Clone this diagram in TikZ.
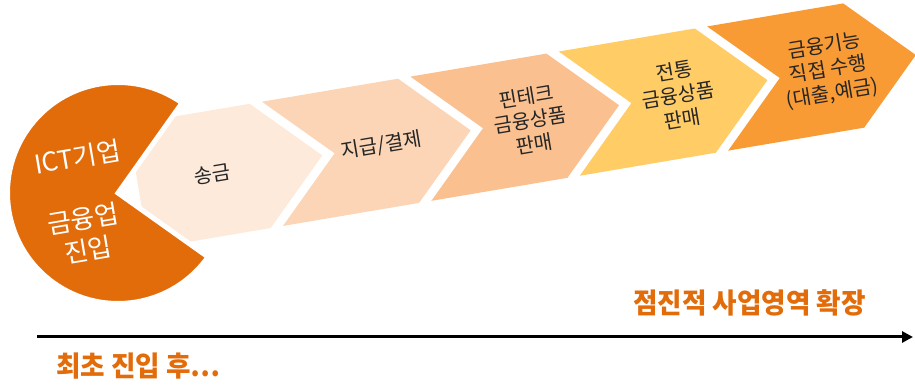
\documentclass[tikz,border=0pt]{standalone}
\usepackage{fontspec}
\setmainfont{Noto Sans CJK KR}
\newfontfamily\krb{Noto Sans CJK KR}[FakeStretch=0.95]
\usetikzlibrary{arrows.meta}
\definecolor{pieor}{HTML}{E36C0A}
\definecolor{cA}{HTML}{FDEADA}
\definecolor{cB}{HTML}{FBD5B5}
\definecolor{cC}{HTML}{FAC090}
\definecolor{cD}{HTML}{FFCC66}
\definecolor{cE}{HTML}{F99B35}
\definecolor{txt}{HTML}{262626}
\begin{document}
\begin{tikzpicture}[x=1pt,y=1pt,
  lbl/.style={font=\fontsize{20}{24}\selectfont, text=txt, align=center, transform shape, inner sep=0pt},
  pietxt/.style={font=\fontsize{26}{31}\selectfont, text=white, align=center, transform shape, inner sep=0pt},
  bottxt/.style={font=\krb\bfseries\fontsize{28}{32}\selectfont, text=pieor, inner sep=0pt}]
\useasboundingbox (0,0) rectangle (915,385);
\begin{scope}[shift={(118,192)}, rotate=9.6]
  \fill[cA] (21,66) -- (144.7,66) -- (207.7,3) -- (144.7,-60) -- (21,-60) -- cycle;
  \foreach \k/\c in {0/cB,1/cC,2/cD,3/cE} {
    \pgfmathsetmacro\a{157.2+150.5*\k}
    \fill[\c] (\a,66) -- ++(138,0) -- ++(63,-63) -- ++(-63,-63) -- ++(-138,0) -- ++(63,63) -- cycle;
  }
  \filldraw[fill=pieor, draw=white, line width=5pt, line join=miter]
    (0,0) -- (45:110.5) arc[start angle=45, end angle=315, radius=110.5] -- cycle;
  \node[lbl] (t1) at (96,3) {송금};
  \node[lbl] (t2) at (268,3) {지급/결제};
  \node[lbl] (t3) at (418.5,3) {핀테크\\금융상품\\판매};
  \node[lbl] (t4) at (569,3) {전통\\금융상품\\판매};
  \node[lbl] (t5) at (721,3) {금융기능\\직접 수행\\(대출,예금)};
  \node[pietxt] (p1) at (-34,42) {ICT기업};
  \node[pietxt] (p2) at (-39,-35) {금융업\\진입};
\end{scope}
\node[bottxt, anchor=east] (r) at (866,82) {점진적 사업영역 확장};
\node[bottxt, anchor=west] (l) at (56,19) {최초 진입 후…};
\coordinate (as) at (37,48);
\coordinate (ae) at (913,48);
\draw[line width=3pt, -{Triangle[length=11pt,width=11pt]}] (as) -- (ae);
\end{tikzpicture}
\end{document}
